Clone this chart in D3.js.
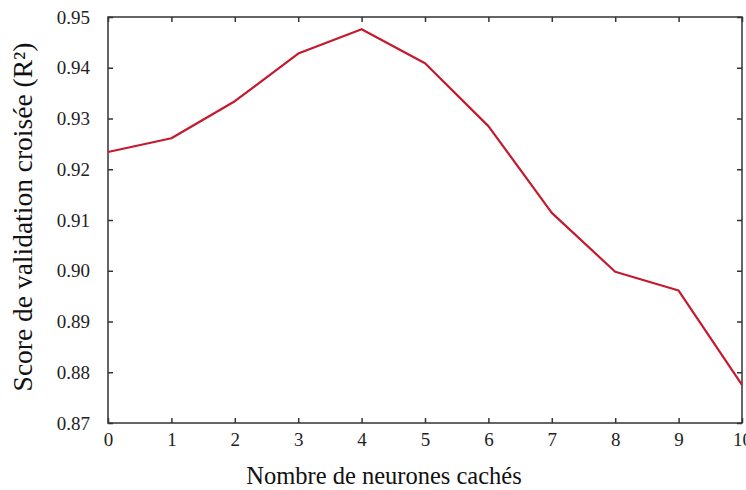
<!DOCTYPE html>
<html><head><meta charset="utf-8">
<script src="https://cdn.jsdelivr.net/npm/d3@7/dist/d3.min.js"></script>
<style>body{margin:0;background:#fff}svg{display:block}</style>
</head><body>
<svg id="c" width="746" height="490"></svg>
<script>
const neurons = [0,1,2,3,4,5,6,7,8,9,10];
const scores = [0.9234,0.9261,0.9334,0.9428,0.9476,0.9409,0.9285,0.9114,0.8998,0.8961,0.8775];
const yTicks = [0.87,0.88,0.89,0.90,0.91,0.92,0.93,0.94,0.95];
const xTicks = [0,1,2,3,4,5,6,7,8,9,10];
const xTitle = "Nombre de neurones cachés";
const yTitle = "Score de validation croisée (R²)";

const svg = d3.select("#c");
const L=108, R=742, T=17, B=423;
const x = d3.scaleLinear().domain([0,10]).range([L,R]);
const y = d3.scaleLinear().domain([0.87,0.95]).range([B,T]);
const font = "'Liberation Serif','Times New Roman',serif";
const axCol = "#333";

svg.append("rect").attr("x",L).attr("y",T).attr("width",R-L).attr("height",B-T)
  .attr("fill","none").attr("stroke",axCol).attr("stroke-width",1.5);

const gb = svg.append("g").attr("transform",`translate(0,${B})`)
  .call(d3.axisBottom(x).tickValues(xTicks).tickSize(-5).tickPadding(10).tickFormat(d3.format("d")));
const gt = svg.append("g").attr("transform",`translate(0,${T})`)
  .call(d3.axisTop(x).tickValues(xTicks).tickSize(-5).tickFormat(""));
const gl = svg.append("g").attr("transform",`translate(${L},0)`)
  .call(d3.axisLeft(y).tickValues(yTicks).tickSize(-5).tickPadding(18).tickFormat(d3.format(".2f")));
const gr = svg.append("g").attr("transform",`translate(${R},0)`)
  .call(d3.axisRight(y).tickValues(yTicks).tickSize(-5).tickFormat(""));
[gb,gt,gl,gr].forEach(g=>{
  g.select(".domain").remove();
  g.selectAll(".tick line").attr("stroke",axCol).attr("stroke-width",1.5);
  g.selectAll("text").attr("fill","#222").style("font-family",font).style("font-size","19px");
});

svg.append("path").datum(neurons.map((n,i)=>[n,scores[i]]))
  .attr("fill","none").attr("stroke","#c41a2e").attr("stroke-width",2.2)
  .attr("stroke-linejoin","round")
  .attr("d",d3.line().x(d=>x(d[0])).y(d=>y(d[1])));

svg.append("text").attr("x",384).attr("y",484).attr("text-anchor","middle")
  .style("font-family",font).style("font-size","24.5px").attr("fill","#111").text(xTitle);
svg.append("text").attr("transform","translate(32,217) rotate(-90)").attr("text-anchor","middle")
  .style("font-family",font).style("font-size","27.5px").attr("fill","#111").text(yTitle);
</script>
</body></html>
